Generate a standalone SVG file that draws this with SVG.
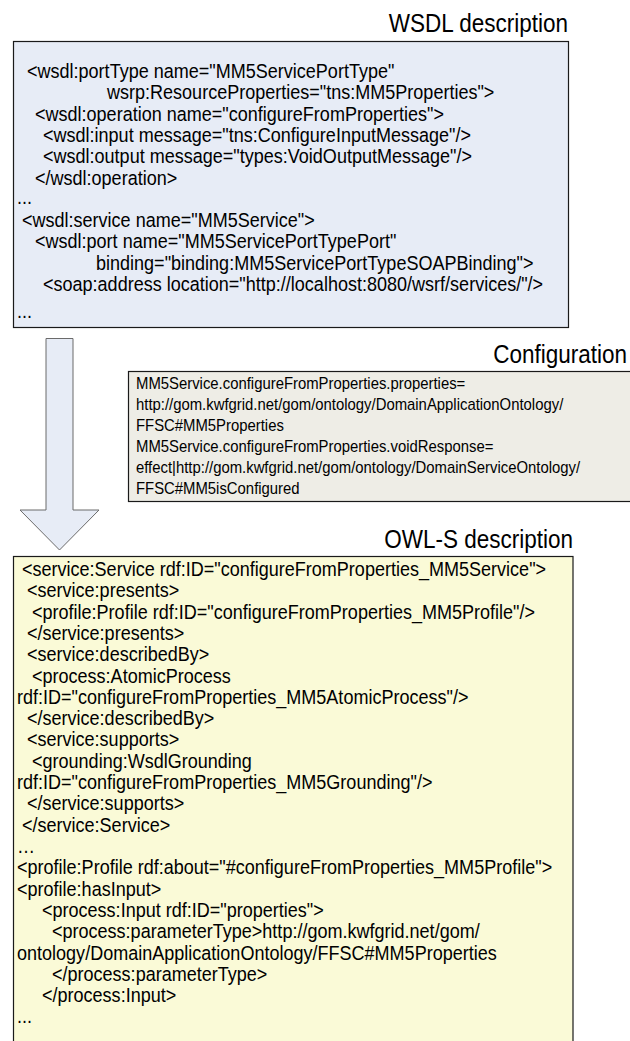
<svg xmlns="http://www.w3.org/2000/svg" width="630" height="1041" viewBox="0 0 630 1041">
<style>
text{font-family:"Liberation Sans",Arial,sans-serif;fill:#000}
.code{font-size:19.5px}
.cfg{font-size:16px}
.title{font-size:25px;text-anchor:end}
.box{stroke:#1a1a1a;stroke-width:1.2}
</style>
<rect width="630" height="1041" fill="#fff"/>
<g id="wsdl">
<rect class="box" x="13.5" y="41.5" width="555" height="286" fill="#e7ecf6"/>
<g transform="scale(0.9,1)"><text class="title" x="631.1" y="32">WSDL description</text></g>
<g transform="scale(0.925,1)">
<text class="code" x="29.19" y="78">&lt;wsdl:portType name="MM5ServicePortType"</text>
<text class="code" x="115.68" y="99">wsrp:ResourceProperties="tns:MM5Properties"&gt;</text>
<text class="code" x="37.84" y="121">&lt;wsdl:operation name="configureFromProperties"&gt;</text>
<text class="code" x="46.49" y="142">&lt;wsdl:input message="tns:ConfigureInputMessage"/&gt;</text>
<text class="code" x="46.49" y="163">&lt;wsdl:output message="types:VoidOutputMessage"/&gt;</text>
<text class="code" x="37.84" y="185">&lt;/wsdl:operation&gt;</text>
<text class="code" x="18.38" y="204">...</text>
<text class="code" x="23.78" y="227">&lt;wsdl:service name="MM5Service"&gt;</text>
<text class="code" x="37.84" y="248">&lt;wsdl:port name="MM5ServicePortTypePort"</text>
<text class="code" x="103.78" y="270">binding="binding:MM5ServicePortTypeSOAPBinding"&gt;</text>
<text class="code" x="46.49" y="291">&lt;soap:address location="http://localhost:8080/wsrf/services/"/&gt;</text>
<text class="code" x="18.38" y="318">...</text>
</g>
</g>
<g id="config">
<rect class="box" x="128.5" y="371.5" width="510" height="130" fill="#eeede6"/>
<g transform="scale(0.9,1)"><text class="title" x="696.7" y="363">Configuration</text></g>
<g transform="scale(0.93,1)">
<text class="cfg" x="146.24" y="389">MM5Service.configureFromProperties.properties=</text>
<text class="cfg" x="146.24" y="410">http://gom.kwfgrid.net/gom/ontology/DomainApplicationOntology/</text>
<text class="cfg" x="146.24" y="431">FFSC#MM5Properties</text>
<text class="cfg" x="146.24" y="452">MM5Service.configureFromProperties.voidResponse=</text>
<text class="cfg" x="146.24" y="473">effect|http://gom.kwfgrid.net/gom/ontology/DomainServiceOntology/</text>
<text class="cfg" x="146.24" y="494">FFSC#MM5isConfigured</text>
</g>
</g>
<g id="connectors">
<polygon points="46,338.5 73,338.5 73,510 99,510 59.5,550 20,510 46,510" fill="#e7ecf6" stroke="#6b6b6b" stroke-width="1"/>
</g>
<g id="owls">
<rect class="box" x="13.5" y="556.5" width="559.5" height="500" fill="#fafad7"/>
<g transform="scale(0.9,1)"><text class="title" x="636.7" y="548">OWL-S description</text></g>
<g transform="scale(0.925,1)">
<text class="code" x="23.78" y="576">&lt;service:Service rdf:ID="configureFromProperties_MM5Service"&gt;</text>
<text class="code" x="29.19" y="597">&lt;service:presents&gt;</text>
<text class="code" x="34.59" y="619">&lt;profile:Profile rdf:ID="configureFromProperties_MM5Profile"/&gt;</text>
<text class="code" x="29.19" y="640">&lt;/service:presents&gt;</text>
<text class="code" x="29.19" y="661">&lt;service:describedBy&gt;</text>
<text class="code" x="34.59" y="683">&lt;process:AtomicProcess</text>
<text class="code" x="18.38" y="704">rdf:ID="configureFromProperties_MM5AtomicProcess"/&gt;</text>
<text class="code" x="29.19" y="725">&lt;/service:describedBy&gt;</text>
<text class="code" x="29.19" y="746">&lt;service:supports&gt;</text>
<text class="code" x="34.59" y="768">&lt;grounding:WsdlGrounding</text>
<text class="code" x="18.38" y="789">rdf:ID="configureFromProperties_MM5Grounding"/&gt;</text>
<text class="code" x="29.19" y="810">&lt;/service:supports&gt;</text>
<text class="code" x="23.78" y="832">&lt;/service:Service&gt;</text>
<text class="code" x="18.38" y="853">…</text>
<text class="code" x="18.38" y="874">&lt;profile:Profile rdf:about="#configureFromProperties_MM5Profile"&gt;</text>
<text class="code" x="18.38" y="896">&lt;profile:hasInput&gt;</text>
<text class="code" x="45.41" y="917">&lt;process:Input rdf:ID="properties"&gt;</text>
<text class="code" x="56.22" y="938">&lt;process:parameterType&gt;http://gom.kwfgrid.net/gom/</text>
<text class="code" x="18.38" y="960">ontology/DomainApplicationOntology/FFSC#MM5Properties</text>
<text class="code" x="56.22" y="981">&lt;/process:parameterType&gt;</text>
<text class="code" x="45.41" y="1002">&lt;/process:Input&gt;</text>
<text class="code" x="18.38" y="1023">...</text>
</g>
</g>
</svg>
